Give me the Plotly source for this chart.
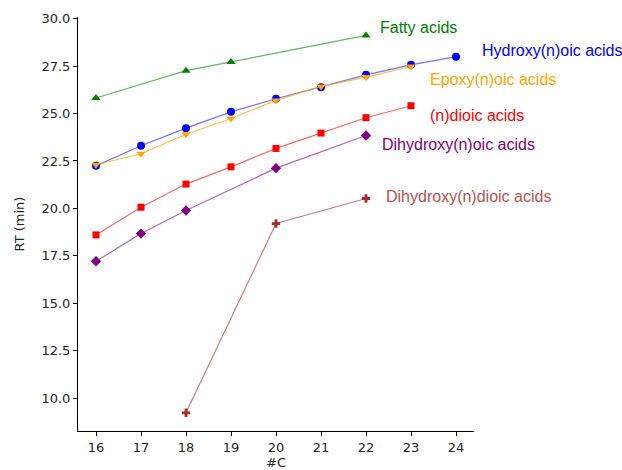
import plotly.graph_objects as go

carbons_fatty = [16, 18, 19, 22]
rt_fatty = [25.82, 27.26, 27.72, 29.12]

carbons_hydroxy = [16, 17, 18, 19, 20, 21, 22, 23, 24]
rt_hydroxy = [22.24, 23.30, 24.23, 25.09, 25.78, 26.39, 27.04, 27.57, 28.0]

carbons_epoxy = [16, 17, 18, 19, 20, 21, 22, 23]
rt_epoxy = [22.30, 22.88, 23.91, 24.74, 25.69, 26.43, 26.92, 27.48]

carbons_dioic = [16, 17, 18, 19, 20, 21, 22, 23]
rt_dioic = [18.60, 20.06, 21.28, 22.19, 23.16, 23.97, 24.78, 25.41]

carbons_dihoic = [16, 17, 18, 20, 22]
rt_dihoic = [17.21, 18.67, 19.89, 22.12, 23.84]

carbons_dihdioic = [18, 20, 22]
rt_dihdioic = [9.22, 19.20, 20.52]

X_RANGE = [15.6, 24.4]
Y_RANGE = [8.26, 30.09]

series = [
    ("Fatty acids", carbons_fatty, rt_fatty, "#008000", "rgba(0,128,0,0.6)", "triangle-up", 8, "#008000", 22.27, 29.54),
    ("Hydroxy(n)oic acids", carbons_hydroxy, rt_hydroxy, "#0000ff", "rgba(0,0,255,0.55)", "circle", 8, "#0000ff", 24.53, 28.34),
    ("Epoxy(n)oic acids", carbons_epoxy, rt_epoxy, "#ffa500", "rgba(255,165,0,0.7)", "triangle-down", 8, "#ffa500", 23.38, 26.77),
    ("(n)dioic acids", carbons_dioic, rt_dioic, "#ff0000", "rgba(255,0,0,0.6)", "square", 7, "#ff0000", 23.38, 24.88),
    ("Dihydroxy(n)oic acids", carbons_dihoic, rt_dihoic, "#800080", "rgba(128,0,128,0.6)", "diamond", 8, "#800080", 22.31, 23.37),
    ("Dihydroxy(n)dioic acids", carbons_dihdioic, rt_dihdioic, "#a52a2a", "rgba(165,42,42,0.6)", "cross", 7, "#b85450", 22.4, 20.64),
]

fig = go.Figure()
for name, xs, ys, mcol, lcol, sym, size, tcol, tx, ty in series:
    fig.add_trace(go.Scatter(
        x=xs, y=ys, mode="lines+markers", name=name,
        line=dict(color=lcol, width=1.2),
        marker=dict(color=mcol, symbol=sym, size=size, line=dict(width=0)),
        showlegend=False,
    ))
    fig.add_annotation(
        xref="paper", yref="paper",
        x=(tx - X_RANGE[0]) / (X_RANGE[1] - X_RANGE[0]),
        y=(ty - Y_RANGE[0]) / (Y_RANGE[1] - Y_RANGE[0]),
        text=name, showarrow=False, xanchor="left", yanchor="middle",
        font=dict(family="Liberation Sans, Arial", size=16, color=tcol))

fig.update_layout(
    width=622, height=470,
    margin=dict(l=78, r=148, t=17, b=39, autoexpand=False),
    paper_bgcolor="white", plot_bgcolor="white",
    font=dict(family="DejaVu Sans", size=13, color="#262626"),
)
fig.update_xaxes(
    range=X_RANGE, tickmode="array", tickvals=list(range(16, 25)),
    showgrid=False, zeroline=False, showline=True, linecolor="black", linewidth=1,
    ticks="outside", ticklen=4, tickcolor="black", automargin=False,
    title=dict(text="#C", standoff=4, font=dict(size=13)),
)
fig.update_yaxes(
    range=Y_RANGE, tickmode="array", tickvals=[10, 12.5, 15, 17.5, 20, 22.5, 25, 27.5, 30],
    ticktext=["10.0", "12.5", "15.0", "17.5", "20.0", "22.5", "25.0", "27.5", "30.0"],
    showgrid=False, zeroline=False, showline=True, linecolor="black", linewidth=1,
    ticks="outside", ticklen=4, tickcolor="black", automargin=False,
    title=dict(text="RT (min)", standoff=13, font=dict(size=13)),
)

fig.write_html("out.html")
